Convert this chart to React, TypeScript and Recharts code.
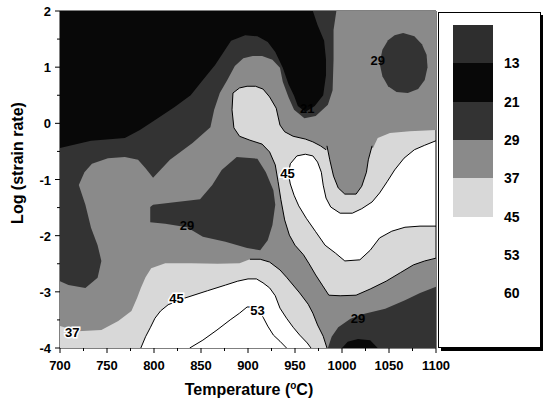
import { ScatterChart, Scatter, XAxis, YAxis, ReferenceLine } from 'recharts'

// contour regions of the efficiency map, traced as (temperature °C, log strain rate) outlines
const plotArea = [
  { t: 700, l: 2 }, { t: 1100, l: 2 }, { t: 1100, l: -4 }, { t: 700, l: -4 },
]
const band21to29TopLeft = [
  { t: 700, l: 2 }, { t: 994, l: 2 }, { t: 991, l: 1.66 }, { t: 991, l: 1.13 }, { t: 990, l: 0.59 },
  { t: 985, l: 0.33 }, { t: 972, l: 0.13 }, { t: 960, l: 0.09 }, { t: 949, l: 0.24 }, { t: 943, l: 0.47 },
  { t: 937, l: 0.74 }, { t: 934, l: 0.99 }, { t: 926, l: 1.13 }, { t: 915, l: 1.2 }, { t: 905, l: 1.2 },
  { t: 895, l: 1.16 }, { t: 886, l: 1.02 }, { t: 878, l: 0.77 }, { t: 870, l: 0.54 }, { t: 864, l: 0.24 },
  { t: 860, l: -0.07 }, { t: 841, l: -0.35 }, { t: 817, l: -0.65 }, { t: 799, l: -0.97 }, { t: 791, l: -0.8 },
  { t: 783, l: -0.65 }, { t: 769, l: -0.6 }, { t: 751, l: -0.62 }, { t: 734, l: -0.72 }, { t: 726, l: -0.87 },
  { t: 720, l: -1.1 }, { t: 727, l: -1.45 }, { t: 733, l: -1.86 }, { t: 740, l: -2.17 }, { t: 744, l: -2.45 },
  { t: 740, l: -2.75 }, { t: 727, l: -2.93 }, { t: 709, l: -2.88 }, { t: 700, l: -2.81 },
]
const band13to21TopLeft = [
  { t: 700, l: 2 }, { t: 969, l: 2 }, { t: 974, l: 1.75 }, { t: 981, l: 1.47 }, { t: 983, l: 1.13 },
  { t: 983, l: 0.86 }, { t: 980, l: 0.5 }, { t: 971, l: 0.31 }, { t: 961, l: 0.2 }, { t: 953, l: 0.31 },
  { t: 949, l: 0.49 }, { t: 943, l: 0.7 }, { t: 937, l: 0.99 }, { t: 929, l: 1.27 }, { t: 921, l: 1.45 },
  { t: 910, l: 1.55 }, { t: 897, l: 1.57 }, { t: 882, l: 1.47 }, { t: 865, l: 1.04 }, { t: 852, l: 0.77 },
  { t: 839, l: 0.5 }, { t: 822, l: 0.29 }, { t: 804, l: 0.09 }, { t: 785, l: -0.12 }, { t: 769, l: -0.26 },
  { t: 733, l: -0.31 }, { t: 700, l: -0.44 },
]
const band21to29Circle = [
  { t: 1065, l: 1.61 }, { t: 1077, l: 1.55 }, { t: 1085, l: 1.41 }, { t: 1090, l: 1.22 }, { t: 1091, l: 1.0 },
  { t: 1088, l: 0.77 }, { t: 1081, l: 0.61 }, { t: 1070, l: 0.54 }, { t: 1058, l: 0.56 }, { t: 1049, l: 0.66 },
  { t: 1043, l: 0.84 }, { t: 1040, l: 1.07 }, { t: 1043, l: 1.31 }, { t: 1049, l: 1.48 }, { t: 1056, l: 1.57 },
]
const band21to29Middle = [
  { t: 796, l: -1.49 }, { t: 799, l: -1.45 }, { t: 824, l: -1.4 }, { t: 849, l: -1.35 }, { t: 862, l: -1.1 },
  { t: 872, l: -0.83 }, { t: 888, l: -0.6 }, { t: 910, l: -0.63 }, { t: 919, l: -0.87 }, { t: 927, l: -1.19 },
  { t: 929, l: -1.45 }, { t: 926, l: -1.81 }, { t: 921, l: -2.08 }, { t: 913, l: -2.26 }, { t: 899, l: -2.22 },
  { t: 876, l: -2.11 }, { t: 852, l: -2.02 }, { t: 835, l: -1.85 }, { t: 812, l: -1.79 }, { t: 796, l: -1.76 },
]
const band21to29BottomRight = [
  { t: 985, l: -4 }, { t: 989, l: -3.8 }, { t: 996, l: -3.63 }, { t: 1009, l: -3.48 }, { t: 1024, l: -3.39 },
  { t: 1046, l: -3.3 }, { t: 1067, l: -3.15 }, { t: 1083, l: -3.02 }, { t: 1100, l: -2.91 }, { t: 1100, l: -4 },
]
const band13to21Bottom = [
  { t: 1000, l: -4 }, { t: 1006, l: -3.89 }, { t: 1017, l: -3.84 }, { t: 1030, l: -3.86 }, { t: 1038, l: -4 },
]
// starts at the right edge; the last four points (upper right rim) carry no contour line
const band37to45Upper = [
  { t: 1100, l: -0.12 }, { t: 1100, l: -2.4 }, { t: 1088, l: -2.45 }, { t: 1076, l: -2.52 }, { t: 1062, l: -2.66 },
  { t: 1047, l: -2.81 }, { t: 1030, l: -2.95 }, { t: 1015, l: -3.06 }, { t: 998, l: -3.07 }, { t: 986, l: -3.06 },
  { t: 979, l: -2.88 }, { t: 972, l: -2.7 }, { t: 965, l: -2.5 }, { t: 959, l: -2.34 }, { t: 950, l: -2.17 },
  { t: 944, l: -1.99 }, { t: 939, l: -1.72 }, { t: 935, l: -1.36 }, { t: 932, l: -1.04 }, { t: 929, l: -0.74 },
  { t: 923, l: -0.51 }, { t: 915, l: -0.37 }, { t: 902, l: -0.3 }, { t: 891, l: -0.23 }, { t: 885, l: -0.08 },
  { t: 883, l: 0.24 }, { t: 884, l: 0.54 }, { t: 891, l: 0.63 }, { t: 899, l: 0.66 }, { t: 908, l: 0.66 },
  { t: 916, l: 0.61 }, { t: 923, l: 0.47 }, { t: 930, l: 0.27 }, { t: 934, l: -0.03 }, { t: 939, l: -0.15 },
  { t: 948, l: -0.23 }, { t: 961, l: -0.28 }, { t: 969, l: -0.33 }, { t: 977, l: -0.4 }, { t: 983, l: -0.47 },
  { t: 1033, l: -0.44 }, { t: 1038, l: -0.26 }, { t: 1051, l: -0.17 }, { t: 1072, l: -0.14 },
]
const band45to53Upper = [
  { t: 952, l: -0.58 }, { t: 961, l: -0.55 }, { t: 969, l: -0.58 }, { t: 974, l: -0.69 }, { t: 978, l: -0.87 },
  { t: 980, l: -1.1 }, { t: 983, l: -1.33 }, { t: 988, l: -1.49 }, { t: 998, l: -1.6 }, { t: 1011, l: -1.6 },
  { t: 1021, l: -1.52 }, { t: 1032, l: -1.4 }, { t: 1040, l: -1.24 }, { t: 1048, l: -1.04 }, { t: 1056, l: -0.83 },
  { t: 1066, l: -0.62 }, { t: 1077, l: -0.47 }, { t: 1088, l: -0.39 }, { t: 1100, l: -0.31 }, { t: 1100, l: -1.83 },
  { t: 1083, l: -1.83 }, { t: 1067, l: -1.85 }, { t: 1053, l: -1.92 }, { t: 1040, l: -2.04 }, { t: 1030, l: -2.26 },
  { t: 1019, l: -2.43 }, { t: 1003, l: -2.45 }, { t: 993, l: -2.31 }, { t: 982, l: -2.17 }, { t: 972, l: -1.93 },
  { t: 962, l: -1.69 }, { t: 954, l: -1.47 }, { t: 949, l: -1.28 }, { t: 945, l: -1.08 }, { t: 943, l: -0.9 },
  { t: 945, l: -0.72 }, { t: 952, l: -0.58 },
]
const band29to37Tongue = [
  { t: 1032, l: -0.4 }, { t: 1028, l: -0.65 }, { t: 1026, l: -0.87 }, { t: 1021, l: -1.12 }, { t: 1015, l: -1.26 },
  { t: 1003, l: -1.26 }, { t: 996, l: -1.15 }, { t: 991, l: -0.94 }, { t: 987, l: -0.65 }, { t: 984, l: -0.4 },
]
const band37to45Lower = [
  { t: 700, l: -3.61 }, { t: 719, l: -3.7 }, { t: 744, l: -3.68 }, { t: 762, l: -3.52 }, { t: 776, l: -3.34 },
  { t: 782, l: -3.11 }, { t: 786, l: -2.93 }, { t: 791, l: -2.74 }, { t: 797, l: -2.58 }, { t: 812, l: -2.49 },
  { t: 839, l: -2.49 }, { t: 868, l: -2.5 }, { t: 891, l: -2.49 }, { t: 902, l: -2.42 }, { t: 913, l: -2.42 },
  { t: 923, l: -2.47 }, { t: 934, l: -2.61 }, { t: 941, l: -2.74 }, { t: 955, l: -3.02 }, { t: 964, l: -3.22 },
  { t: 969, l: -3.38 }, { t: 974, l: -3.59 }, { t: 980, l: -3.79 }, { t: 984, l: -4 }, { t: 700, l: -4 },
]
const band45to53Lower = [
  { t: 786, l: -4 }, { t: 791, l: -3.8 }, { t: 796, l: -3.64 }, { t: 801, l: -3.47 }, { t: 807, l: -3.34 },
  { t: 815, l: -3.23 }, { t: 833, l: -3.11 }, { t: 857, l: -2.98 }, { t: 876, l: -2.88 }, { t: 889, l: -2.81 },
  { t: 900, l: -2.77 }, { t: 909, l: -2.77 }, { t: 916, l: -2.84 }, { t: 923, l: -2.93 }, { t: 929, l: -3.07 },
  { t: 934, l: -3.29 }, { t: 941, l: -3.47 }, { t: 948, l: -3.63 }, { t: 955, l: -3.77 }, { t: 963, l: -3.91 },
  { t: 967, l: -4 },
]
const band53to60 = [
  { t: 838, l: -4 }, { t: 852, l: -3.86 }, { t: 867, l: -3.68 }, { t: 881, l: -3.5 }, { t: 891, l: -3.38 },
  { t: 899, l: -3.27 }, { t: 904, l: -3.27 }, { t: 911, l: -3.34 }, { t: 916, l: -3.45 }, { t: 921, l: -3.61 },
  { t: 927, l: -3.77 }, { t: 934, l: -3.88 }, { t: 941, l: -4 },
]

const bandLimits = ['13', '21', '29', '37', '45', '53', '60']
const bandFills = ['#2e2e2e', '#080808', '#333333', '#8a8a8a', '#d8d8d8', '#ffffff', '#ffffff', '#ffffff']

const labelsOnLight = [
  { t: 942, l: -0.88, text: '45' },
  { t: 824, l: -3.11, text: '45' },
  { t: 910, l: -3.32, text: '53' },
  { t: 713, l: -3.71, text: '37' },
]
const labelsOnDark = [
  { t: 1017, l: -3.47, text: '29' },
  { t: 1038, l: 1.13, text: '29' },
  { t: 963, l: 0.27, text: '21' },
  { t: 835, l: -1.81, text: '29' },
]

const xTicks = [700, 725, 750, 775, 800, 825, 850, 875, 900, 925, 950, 975, 1000, 1025, 1050, 1075, 1100]
const yTicks = [-4, -3.5, -3, -2.5, -2, -1.5, -1, -0.5, 0, 0.5, 1, 1.5, 2]

const W = 543
const H = 405
const M = { top: 11, right: 107, bottom: 0, left: 0 }
const FONT = '"Liberation Sans", Arial, sans-serif'

type Pt = { t: number; l: number }

const noSymbol = () => <g />

// eslint-disable-next-line @typescript-eslint/no-explicit-any
const lightLabel = (p: any) => (
  <text x={p.cx} y={p.cy + 5} textAnchor="middle" fontFamily={FONT} fontWeight={700} fontSize={13}
    fill="#000" stroke="#fff" strokeWidth={3} paintOrder="stroke">
    {p.payload.text}
  </text>
)

// eslint-disable-next-line @typescript-eslint/no-explicit-any
const darkLabel = (p: any) => (
  <text x={p.cx} y={p.cy + 5} textAnchor="middle" fontFamily={FONT} fontWeight={700} fontSize={13} fill="#000">
    {p.payload.text}
  </text>
)

// eslint-disable-next-line @typescript-eslint/no-explicit-any
const XTick = (p: any) => {
  const v = p.payload.value
  const major = v % 50 === 0
  return (
    <g>
      <line x1={p.x} x2={p.x} y1={p.y} y2={p.y + (major ? 5 : 3)} stroke="#000" />
      {major && (
        <text x={p.x} y={p.y + 22} textAnchor="middle" fontFamily={FONT} fontWeight={700} fontSize={13} fill="#000">
          {v}
        </text>
      )}
    </g>
  )
}

// eslint-disable-next-line @typescript-eslint/no-explicit-any
const YTick = (p: any) => {
  const v = p.payload.value
  const major = Number.isInteger(v)
  return (
    <g>
      <line x1={p.x} x2={p.x - (major ? 5 : 3)} y1={p.y} y2={p.y} stroke="#000" />
      {major && (
        <text x={p.x - 9} y={p.y + 5} textAnchor="end" fontFamily={FONT} fontWeight={700} fontSize={13} fill="#000">
          {v}
        </text>
      )}
    </g>
  )
}

const region = (data: Pt[], fill: string) => (
  <Scatter data={data} shape={noSymbol} line={{ fill, stroke: 'none' }} isAnimationActive={false} />
)
const contour = (data: Pt[]) => (
  <Scatter data={data} shape={noSymbol} line={{ fill: 'none', stroke: '#000', strokeWidth: 1 }} isAnimationActive={false} />
)

function ColorKey() {
  return (
    <div
      style={{
        position: 'absolute', left: 438, top: 12, width: 101, height: 334,
        border: '1px solid #000', background: '#fff', boxShadow: '3px 3px 0 #000',
        fontFamily: FONT, fontWeight: 700, fontSize: 14,
      }}
    >
      {bandFills.map((f, i) => (
        <div key={i} style={{ position: 'absolute', left: 14, top: 12 + i * 38.3, width: 40, height: 38.6, background: f }} />
      ))}
      {bandLimits.map((s, i) => (
        <div key={s} style={{ position: 'absolute', left: 65, top: 50.3 + i * 38.3 - 9, lineHeight: '18px' }}>
          {s}
        </div>
      ))}
    </div>
  )
}

export default function App() {
  return (
    <div style={{ position: 'absolute', left: 0, top: 0, width: W, height: H, background: '#fff' }}>
      <ScatterChart width={W} height={H} margin={M}>
        <XAxis
          type="number" dataKey="t" domain={[700, 1100]} ticks={xTicks} interval={0} height={57}
          tickSize={0} tickMargin={0} tickLine={false} tick={XTick} axisLine={{ stroke: '#000' }} allowDataOverflow
        />
        <YAxis
          type="number" dataKey="l" domain={[-4, 2]} ticks={yTicks} interval={0} width={60}
          tickSize={0} tickMargin={0} tickLine={false} tick={YTick} axisLine={{ stroke: '#000' }} allowDataOverflow
        />
        {region(plotArea, bandFills[3])}
        {region(band21to29TopLeft, bandFills[2])}
        {region(band13to21TopLeft, bandFills[1])}
        {region(band21to29Circle, bandFills[2])}
        {region(band21to29Middle, bandFills[2])}
        {region(band21to29BottomRight, bandFills[2])}
        {region(band13to21Bottom, bandFills[1])}
        {region(band37to45Upper, bandFills[4])}
        {contour(band37to45Upper.slice(0, -4))}
        {region(band45to53Upper, bandFills[5])}
        {contour(band45to53Upper)}
        {region(band29to37Tongue, bandFills[3])}
        {contour(band29to37Tongue)}
        {region(band37to45Lower, bandFills[4])}
        {contour(band37to45Lower.slice(13, 24))}
        {region(band45to53Lower, bandFills[5])}
        {contour(band45to53Lower)}
        {region(band53to60, bandFills[6])}
        {contour(band53to60)}
        <Scatter data={labelsOnLight} shape={lightLabel} isAnimationActive={false} />
        <Scatter data={labelsOnDark} shape={darkLabel} isAnimationActive={false} />
        <ReferenceLine x={1100} stroke="#000" />
        <ReferenceLine y={2} stroke="#000" />
        <text x={249} y={395} textAnchor="middle" fontFamily={FONT} fontWeight={700} fontSize={16} fill="#000">
          <tspan>Temperature (</tspan>
          <tspan dy={-6} fontSize={10}>o</tspan>
          <tspan dy={6}>C)</tspan>
        </text>
        <text x={23} y={163} transform="rotate(-90 23 163)" textAnchor="middle" fontFamily={FONT}
          fontWeight={700} fontSize={16} fill="#000">
          Log (strain rate)
        </text>
      </ScatterChart>
      <ColorKey />
    </div>
  )
}
